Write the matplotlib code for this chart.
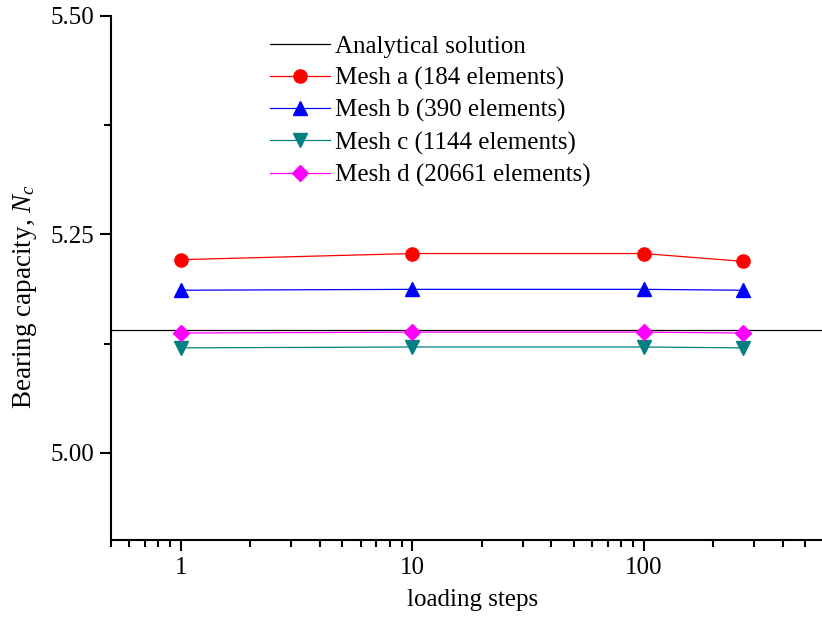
import matplotlib
matplotlib.use("Agg")
import matplotlib.pyplot as plt
from matplotlib.ticker import MultipleLocator, FixedLocator, FixedFormatter, LogLocator, NullFormatter

plt.rcParams['font.family'] = ['Liberation Serif', 'DejaVu Serif']
plt.rcParams['mathtext.fontset'] = 'custom'
plt.rcParams['mathtext.rm'] = 'Liberation Serif'
plt.rcParams['mathtext.it'] = 'Liberation Serif:italic'

steps = [1, 10, 100, 270]
analytical = 5.14
mesh_a = [5.221, 5.228, 5.228, 5.219]
mesh_b = [5.186, 5.187, 5.187, 5.186]
mesh_c = [5.120, 5.121, 5.121, 5.120]
mesh_d = [5.137, 5.138, 5.138, 5.137]
xtick_vals = [1, 10, 100]
xtick_labels = ['1', '10', '100']
ytick_vals = [5.00, 5.25, 5.50]
ytick_labels = ['5.00', '5.25', '5.50']

FS = 18
fig = plt.figure(figsize=(8.22, 6.17), dpi=100)
L, B, T = 111, 540, 16
ax = fig.add_axes([L/822, 1-B/617, 1-L/822, (B-T)/617])

xlim = (0.5, 590)
ax.plot(xlim, [analytical, analytical], color='black', lw=0.9, label='Analytical solution')
ax.plot(steps, mesh_a, color='red', lw=0.9, marker='o', ms=9.5, label='Mesh a (184 elements)')
ax.plot(steps, mesh_b, color='blue', lw=0.9, marker='^', ms=10, label='Mesh b (390 elements)')
ax.plot(steps, mesh_c, color='#008080', lw=0.9, marker='v', ms=10, label='Mesh c (1144 elements)')
ax.plot(steps, mesh_d, color='magenta', lw=0.9, marker='D', ms=8, label='Mesh d (20661 elements)')

ax.set_xscale('log')
ax.set_xlim(*xlim)
ax.set_ylim(4.9, 5.5)

ax.xaxis.set_major_locator(FixedLocator(xtick_vals))
ax.xaxis.set_major_formatter(FixedFormatter(xtick_labels))
ax.xaxis.set_minor_locator(LogLocator(base=10, subs=range(2, 10), numticks=20))
ax.xaxis.set_minor_formatter(NullFormatter())
ax.yaxis.set_major_locator(FixedLocator(ytick_vals))
ax.yaxis.set_major_formatter(FixedFormatter(ytick_labels))
ax.yaxis.set_minor_locator(MultipleLocator(0.125))

for s in ['top', 'right']:
    ax.spines[s].set_visible(False)
for s in ['left', 'bottom']:
    ax.spines[s].set_linewidth(1.5)

ax.tick_params(which='major', direction='out', length=8, width=1.5, labelsize=FS, pad=4)
ax.tick_params(which='minor', direction='out', length=5, width=1.5)

ax.set_xlabel('loading steps', fontsize=FS)
ax.set_ylabel('Bearing capacity, $N_c$', fontsize=19.5)
ax.xaxis.set_label_coords((473-L)/(822-L), -(600-B)/(B-T), transform=ax.transAxes)
ax.xaxis.label.set_va('center')
ax.yaxis.set_label_coords(-(L-25)/(822-L), (B-297)/(B-T), transform=ax.transAxes)
ax.yaxis.label.set_va('center')

leg = ax.legend(loc='upper left', bbox_to_anchor=((270-L)/(822-L), 1-(35-T)/(B-T)), frameon=False,
                fontsize=FS, handlelength=2.4, handletextpad=0.2, labelspacing=0.37, borderpad=0.0,
                borderaxespad=0.0)

fig.savefig('out.png', dpi=100)
